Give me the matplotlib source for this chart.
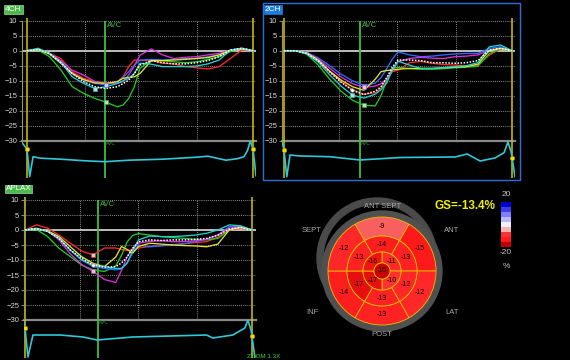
import numpy as np
import matplotlib
matplotlib.use("Agg")
import matplotlib.pyplot as plt
from matplotlib.patches import Wedge, Circle, Rectangle
from matplotlib.colors import LinearSegmentedColormap, Normalize

plt.rcParams["font.family"] = ["Liberation Sans", "DejaVu Sans"]

W, H = 570, 360

# time, % of the cycle between the two yellow markers
t = [0, 5, 10, 15, 20, 25, 30, 35, 40, 42.5, 45, 47.5, 50, 55, 60, 65, 70, 75, 80, 85, 90, 95, 100]

# 4CH strain (%)
ch4_red = [0, 0.6, -0.9, -2.6, -7.0, -9.2, -10.3, -10.9, -10.3, -8.7, -5.3, -3.1, -3.3, -3.3, -4.2, -4.4, -5.3, -5.7, -6.1, -5.3, -2.6, 0.2, 0]
ch4_green = [0, 0.2, -2.0, -6.4, -12.0, -14.2, -15.9, -17.2, -18.7, -18.1, -15.9, -12.0, -5.9, -3.1, -3.4, -3.7, -4.0, -3.7, -2.9, -2.0, -0.3, 0.8, 0]
ch4_blue = [0, 0.4, -0.9, -3.5, -7.6, -9.8, -10.9, -11.4, -10.3, -9.0, -7.0, -4.8, -3.1, -2.9, -3.1, -2.9, -2.6, -2.6, -2.0, -1.4, 0.2, 0.8, 0]
ch4_magenta = [0, 0.4, -0.9, -3.3, -6.5, -8.1, -10.3, -10.9, -10.9, -10.3, -8.1, -5.0, -1.5, 0.6, -1.4, -2.6, -2.2, -2.0, -1.4, -0.9, 0.2, 0.8, 0]
ch4_yellow = [0, 0.3, -1.1, -4.2, -7.6, -9.6, -10.7, -10.9, -10.3, -9.2, -8.9, -8.7, -7.6, -3.3, -3.3, -3.1, -2.9, -2.6, -2.3, -1.4, 0.2, 0.5, 0]
ch4_cyan = [0, 0.8, -0.9, -3.8, -8.7, -10.9, -12.6, -12.0, -10.9, -10.0, -9.2, -7.6, -4.2, -4.5, -5.3, -5.3, -5.3, -5.1, -4.4, -3.1, 0.2, 0.8, 0]
ch4_avg = [0, 0.4, -1.0, -4.0, -7.6, -10.3, -12.0, -12.6, -12.0, -11.0, -9.8, -7.6, -4.8, -3.3, -4.0, -4.4, -4.4, -4.0, -3.3, -2.0, 0.2, 0.8, 0]

# 2CH strain (%)
ch2_red = [0, 0, -1.0, -3.5, -7.0, -10.3, -13.0, -14.6, -14.0, -12.5, -9.5, -7.0, -6.5, -4.0, -3.6, -4.2, -4.6, -4.8, -5.0, -4.8, -1.5, 0.6, 0]
ch2_green = [0, 0, -1.2, -4.8, -9.5, -13.5, -16.5, -18.2, -18.4, -15.0, -10.0, -6.0, -5.5, -6.0, -6.2, -6.2, -6.0, -5.7, -5.5, -5.2, -1.0, 0.6, 0]
ch2_blue = [0, 0, -0.6, -2.4, -5.0, -7.8, -10.0, -11.6, -10.8, -9.0, -6.0, -2.8, -0.4, -1.4, -2.0, -1.8, -1.4, -1.1, -0.9, -0.9, 0.8, 1.3, 0]
ch2_magenta = [0, 0, -0.6, -2.8, -5.8, -8.8, -11.0, -12.2, -11.8, -11.0, -9.5, -6.5, -3.7, -2.6, -2.2, -2.5, -2.6, -2.0, -1.8, -1.4, 0.2, 0.8, 0]
ch2_yellow = [0, 0, -0.8, -3.2, -6.8, -9.8, -12.0, -13.2, -9.5, -7.0, -6.6, -6.4, -6.2, -5.9, -5.9, -5.9, -5.7, -5.5, -5.3, -4.5, 0.0, 0.8, 0]
ch2_cyan = [0, 0, -1.0, -3.8, -8.0, -11.8, -14.8, -15.8, -14.5, -13.0, -10.8, -6.4, -3.5, -4.8, -5.9, -5.9, -5.6, -5.3, -5.0, -4.0, 1.3, 1.9, 0]
ch2_avg = [0, 0, -0.9, -3.3, -7.0, -10.5, -13.2, -14.6, -13.5, -12.0, -9.0, -5.5, -3.1, -3.1, -3.3, -4.0, -4.0, -4.2, -4.0, -3.3, 0.2, 0.8, 0]

# APLAX strain (%)
lax_red = [0, 1.7, 0.6, -1.7, -4.4, -7.0, -8.3, -6.0, -6.0, -6.5, -6.8, -6.6, -6.0, -5.5, -5.2, -4.9, -4.6, -4.2, -3.9, -2.4, 0.0, 0.6, 0]
lax_green = [0, 0.2, -2.2, -6.1, -8.9, -11.7, -13.3, -13.8, -12.0, -8.5, -4.0, -1.8, -1.2, -1.7, -2.2, -2.5, -2.8, -3.1, -3.3, -2.8, 0.0, 1.1, 0]
lax_blue = [0, 0.4, -0.5, -2.8, -6.7, -10.0, -12.2, -12.8, -13.3, -13.0, -11.0, -7.5, -5.0, -5.6, -5.3, -5.0, -4.6, -3.9, -3.1, -1.7, 1.1, 1.3, 0]
lax_magenta = [0, 0.5, -0.3, -3.3, -8.0, -11.5, -13.8, -16.5, -17.5, -13.5, -9.0, -6.0, -4.4, -3.8, -3.6, -3.9, -3.9, -3.6, -3.1, -1.7, 0.6, 1.1, 0]
lax_yellow = [0, 0.4, -0.3, -2.2, -5.6, -8.9, -11.1, -12.2, -9.0, -5.5, -6.5, -7.7, -5.5, -4.4, -4.7, -5.0, -5.2, -5.3, -5.6, -4.7, 0.0, 0.9, 0]
lax_cyan = [0, 0.6, -0.5, -2.8, -6.7, -10.0, -11.7, -12.2, -12.8, -12.8, -11.0, -7.0, -3.3, -2.0, -2.2, -2.2, -2.0, -1.7, -1.1, 0.0, 1.7, 1.4, 0]
lax_avg = [0, 0.5, -0.5, -2.8, -6.7, -9.4, -11.7, -12.4, -12.2, -11.0, -9.0, -6.1, -3.9, -3.3, -3.5, -3.3, -3.3, -3.1, -2.8, -1.7, 0.3, 0.8, 0]

# ECG traces under each view (arbitrary units, 0 = baseline)
ecg4_t = [-2.2, 0, 1.2, 2.7, 6, 15, 25, 34.5, 45, 60, 75, 80, 88, 93, 96, 97.5, 98.8, 100, 101.3]
ecg4_v = [14, 7.7, -20, 0, -1.5, -2.5, -4, -5, -3.5, -2.5, -0.5, 0.5, -3.5, -2, 0, 6, 15.7, 7.5, -19]
ecg2_t = [-0.9, 0, 1.2, 2.6, 7, 20, 33.3, 51, 75, 80.3, 86, 92.5, 96.5, 98.2, 99.6, 101.3]
ecg2_v = [14.7, 6.7, -20, 1.7, 0.7, 0, -3.3, -0.8, -0.3, 2.7, -4.3, -1.3, 4, 14.7, 4.7, -20]
ecgx_t = [-0.44, 0, 1.3, 3.5, 15.4, 25.6, 31.7, 47.6, 64, 80, 82.8, 91.6, 96.9, 98.2, 99.6, 101.3]
ecgx_v = [14, 8, -21, 1, 1, -1, -4, -1, 0, 1, -2, 1, 8, 16, 6, -21]

# aortic valve closure, % of cycle
avc4, avc2, avcx = 34.5, 33.3, 32.2

# bull's-eye segment values
basal_vals = [-9, -15, -12, -13, -14, -12]   # ant sept, ant, lat, post, inf, sept
mid_vals = [-14, -13, -12, -13, -17, -13]
apical_vals = [-11, -10, -17, -16]
apex_val = -15
gs_value = -13.4
cbar_levels = [20, 15, 10, 5, 0, -5, -10, -15, -20]

COLORS = {"red": "#ff2828", "green": "#22c822", "blue": "#2f6bff",
          "magenta": "#de2ede", "yellow": "#e2e22a", "cyan": "#1fd2d2"}
YEL = "#d8c400"
AVC_GREEN = "#3cc03c"
GRID = "#bcbcbc"

fig = plt.figure(figsize=(W / 100, H / 100), dpi=100, facecolor="black")


def px_axes(x0, y0, x1, y1):
    return fig.add_axes([x0 / W, 1 - y1 / H, (x1 - x0) / W, (y1 - y0) / H])


def strain_panel(box, ecg_box, xlim, grid_x, avc, curves, avg, marks, e_t, e_v, e_ylim):
    ax = px_axes(*box)
    ax.set_facecolor("black")
    ax.set_xlim(xlim)
    ax.set_ylim(-30, 10)
    for y in [10, 5, -5, -10, -15, -20, -25]:
        ax.axhline(y, color=GRID, lw=0.6, ls=(0, (1, 1.5)), zorder=1)
    for x in grid_x:
        ax.axvline(x, color=GRID, lw=0.6, ls=(0, (1, 1.5)), zorder=1)
    ax.axhline(0, color="#cccccc", lw=1.3, zorder=1)
    ax.axhline(-30, color="#8a8a8a", lw=1.6, clip_on=False, zorder=1)
    ax.vlines([0, 100], -30, 11, color=YEL, lw=1.1, clip_on=False, zorder=2)
    ax.axvline(avc, color=AVC_GREEN, lw=1.3, zorder=2)
    ax.text(avc + 0.8, 8.4, "AVC", color=AVC_GREEN, fontsize=5.5, va="center", ha="left")

    for vals, name in curves:
        ax.plot(t, vals, color=COLORS[name], lw=0.95, zorder=3)
        if name in marks:
            i = marks[name]
            ax.plot(t[i], vals[i], "s", ms=2.6, mfc="#d0d0d0", mec=COLORS[name], mew=0.4, zorder=5)
    ax.plot(t, avg, color="white", lw=1.1, ls=(0, (1, 1)), zorder=4)
    if "avg" in marks:
        i = marks["avg"]
        ax.plot(t[i], avg[i], "o", ms=2.6, mfc="white", mec="#888888", mew=0.4, zorder=5)

    for s in ["top", "right", "bottom"]:
        ax.spines[s].set_visible(False)
    ax.spines["left"].set_color("#9c9658")
    ax.set_xticks([])
    ax.set_yticks([10, 5, 0, -5, -10, -15, -20, -25, -30])
    ax.tick_params(axis="y", colors="#a0a0a0", labelcolor="#d8d8d8", labelsize=5.5,
                   length=2, pad=1.5, width=0.6)

    ex = px_axes(*ecg_box)
    ex.set_xlim(xlim)
    ex.set_ylim(e_ylim)
    ex.axis("off")
    ex.axvline(0, color=YEL, lw=1.1)
    ex.axvline(100, color=YEL, lw=1.1)
    ex.axvline(avc, color=AVC_GREEN, lw=1.3)
    ex.text(avc + 0.5, e_ylim[1] - 3, "AVC", color="#2fa02f", fontsize=3.6, va="center")
    ex.plot(e_t, e_v, color="#2ec8d8", lw=1.2)
    ex.plot([0, 100], [np.interp(0, e_t, e_v), np.interp(100, e_t, e_v)], "o",
            ms=3.2, mfc="#f0e000", mec="#a09000", mew=0.5, zorder=5)
    return ax


names = ["red", "green", "blue", "magenta", "yellow", "cyan"]
strain_panel((22, 20.7, 256, 140.7), (22, 140.7, 256, 178), (-2.2, 101.3), [25.7, 49.1, 75.2], avc4,
             list(zip([ch4_red, ch4_green, ch4_blue, ch4_magenta, ch4_yellow, ch4_cyan], names)),
             ch4_avg, {"green": 7, "blue": 7, "cyan": 6}, ecg4_t, ecg4_v, (-21.3, 16))
strain_panel((282, 20.7, 515, 140.7), (282, 140.7, 515, 178), (-0.9, 101.3), [24.1, 49.6, 75.4], avc2,
             list(zip([ch2_red, ch2_green, ch2_blue, ch2_magenta, ch2_yellow, ch2_cyan], names)),
             ch2_avg, {"green": 7, "blue": 7, "magenta": 7, "cyan": 6, "avg": 6}, ecg2_t, ecg2_v, (-21.3, 16))
strain_panel((24, 200, 256, 320), (24, 320, 256, 358), (-0.44, 101.8), [24.2, 49.8, 75.8], avcx,
             list(zip([lax_red, lax_green, lax_blue, lax_magenta, lax_yellow, lax_cyan], names)),
             lax_avg, {"red": 6, "magenta": 6, "avg": 6}, ecgx_t, ecgx_v, (-22, 16))

# overlay in pixel coordinates (y up)
ov = fig.add_axes([0, 0, 1, 1])
ov.set_xlim(0, W)
ov.set_ylim(0, H)
ov.axis("off")

ov.add_patch(Rectangle((263, H - 180), 257, 177, fill=False, ec="#2a70d8", lw=1.0))
box_green = dict(boxstyle="square,pad=0.12", fc="#4cbb4c", ec="#8fe08f", lw=0.5)
ov.text(5, H - 9.5, "4CH", fontsize=6, color="white", va="center", ha="left", bbox=box_green)
ov.text(264.5, H - 9.5, "2CH", fontsize=6, color="white", va="center", ha="left",
        bbox=dict(boxstyle="square,pad=0.12", fc="#1a7fe0", ec="#1a7fe0", lw=0.5))
ov.text(5.5, H - 189, "APLAX", fontsize=5.8, color="white", va="center", ha="left", bbox=box_green)
ov.text(247, H - 356, "ZOOM 1.3X", fontsize=4.5, color="#40d040", va="center", ha="left")

# bull's-eye
cmap = LinearSegmentedColormap.from_list(
    "strain", [(0, "#c00000"), (0.125, "#ff1a1a"), (0.25, "#ff3030"), (0.3, "#f59090"),
               (0.5, "#f4f0ff"), (0.75, "#8080ff"), (1, "#0000d0")])
norm = Normalize(-20, 20)
cx, cy = 382, H - 271
line = "#e8c000"
ov.add_patch(Wedge((377, H - 258), 60, 0, 360, width=6, color="#4a4a4a"))
ov.add_patch(Circle((cx, cy), 60, color="#505050"))


def ring(vals, r_out, width, r_lab, step, start):
    for k, v in enumerate(vals):
        mid = start - step * k
        ov.add_patch(Wedge((cx, cy), r_out, mid - step / 2, mid + step / 2, width=width,
                           fc=cmap(norm(v)), ec=line, lw=0.6))
        a = np.radians(mid)
        ov.text(cx + r_lab * np.cos(a), cy + r_lab * np.sin(a), str(v), fontsize=5,
                color="#140000", ha="center", va="center")


ring(basal_vals, 54, 19, 44, 60, 90)
ring(mid_vals, 35, 16, 27, 60, 90)
ring(apical_vals, 19, 11, 13.5, 90, 45)
ov.add_patch(Circle((cx, cy), 8, fc="#c80000", ec=line, lw=0.6))
ov.text(cx, cy, str(apex_val), fontsize=5, color="#140000", ha="center", va="center")

lab = dict(fontsize=5.5, color="#a8a8a8", ha="center", va="center")
ov.text(383, H - 207, "ANT SEPT", **lab)
ov.text(312, H - 231, "SEPT", **lab)
ov.text(452, H - 231, "ANT", **lab)
ov.text(312, H - 312, "INF", **lab)
ov.text(452, H - 312, "LAT", **lab)
ov.text(382, H - 335, "POST", **lab)

ov.text(465, H - 206, f"GS={gs_value}%", fontsize=8.4, fontweight="bold", color="#f0f000",
        ha="center", va="center")

cb = px_axes(501, 202, 511, 247)
cb.imshow(np.array(cbar_levels, dtype=float)[:, None], cmap=cmap, norm=norm, aspect="auto",
          interpolation="nearest")
cb.axis("off")
ov.text(506, H - 195, "20", fontsize=6, color="#c8c8c8", ha="center", va="center")
ov.text(506, H - 253, "-20", fontsize=6, color="#c8c8c8", ha="center", va="center")
ov.text(506, H - 266, "%", fontsize=6, color="#c8c8c8", ha="center", va="center")

fig.savefig("out.png", dpi=100, facecolor="black")
